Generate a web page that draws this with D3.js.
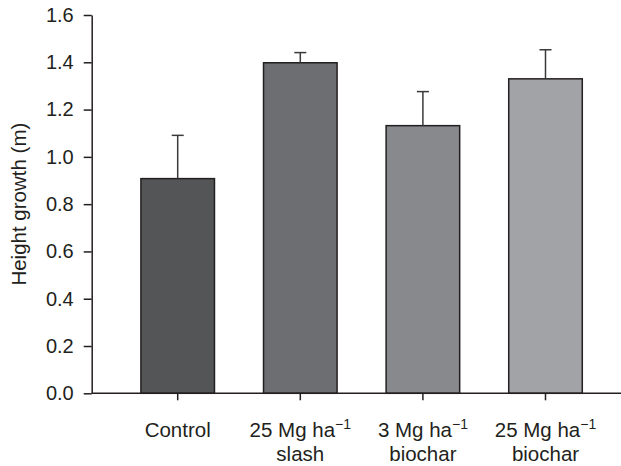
<!DOCTYPE html>
<html>
<head>
  <style>
  body { margin: 0; background: #fff; }
  text { font-family: "Liberation Sans", Arial, sans-serif; fill: #231f20; }
  </style>
  <script src="https://d3js.org/d3.v7.min.js"></script>
</head>
<body>
  <script>
  // data
  var treatments = ["Control", "Slash25", "Biochar3", "Biochar25"];
  var growth = [0.908, 1.398, 1.132, 1.330];
  var errorTop = [1.091, 1.441, 1.276, 1.453];
  var labelMain = ["Control", "25 Mg ha", "3 Mg ha", "25 Mg ha"];
  var labelSup = ["", "\u22121", "\u22121", "\u22121"];
  var labelSecond = ["", "slash", "biochar", "biochar"];
  var barColors = ["#545557", "#6d6e71", "#88898c", "#a2a3a6"];
  var yTicks = [0, 0.2, 0.4, 0.6, 0.8, 1.0, 1.2, 1.4, 1.6];

  var canvasWidth = 621;
  var canvasHeight = 466;
  var axisX = 91.7;
  var ink = "#231f20";

  var svg = d3.select("body")
              .append("svg")
              .attr("width", canvasWidth)
              .attr("height", canvasHeight);

  var x = d3.scaleBand()
      .domain(treatments)
      .range([116.4, 606.8])
      .paddingInner(0.4)
      .paddingOuter(0.2);

  var y = d3.scaleLinear()
      .domain([0, 1.6])
      .range([393.3, 15]);

  var data = treatments.map(function(t, i) {
    return {key: t, value: growth[i], err: errorTop[i], color: barColors[i]};
  });

  // bars
  svg.selectAll("rect.bar")
      .data(data)
      .enter().append("rect")
      .attr("class", "bar")
      .attr("x", function(d) { return x(d.key); })
      .attr("y", function(d) { return y(d.value); })
      .attr("width", x.bandwidth())
      .attr("height", function(d) { return y(0) - y(d.value); })
      .attr("fill", function(d) { return d.color; })
      .attr("stroke", ink)
      .attr("stroke-width", 1.5);

  // error bars (upper only)
  var err = svg.append("g")
      .attr("stroke", "#3a3a3a")
      .attr("stroke-width", 1.5);

  err.selectAll("line.stem")
      .data(data)
      .enter().append("line")
      .attr("x1", function(d) { return x(d.key) + x.bandwidth() / 2; })
      .attr("x2", function(d) { return x(d.key) + x.bandwidth() / 2; })
      .attr("y1", function(d) { return y(d.value); })
      .attr("y2", function(d) { return y(d.err); });

  err.selectAll("line.cap")
      .data(data)
      .enter().append("line")
      .attr("x1", function(d) { return x(d.key) + x.bandwidth() / 2 - 6; })
      .attr("x2", function(d) { return x(d.key) + x.bandwidth() / 2 + 6; })
      .attr("y1", function(d) { return y(d.err); })
      .attr("y2", function(d) { return y(d.err); });

  // y axis
  var yAxis = svg.append("g")
      .attr("transform", "translate(" + axisX + ",0)")
      .call(d3.axisLeft(y).tickValues(yTicks).tickFormat(d3.format(".1f"))
        .tickSizeInner(8).tickSizeOuter(0).tickPadding(10));
  yAxis.select(".domain").attr("stroke", ink).attr("stroke-width", 1.5);
  yAxis.selectAll(".tick line").attr("stroke", ink).attr("stroke-width", 1.5);
  yAxis.selectAll(".tick text")
      .attr("font-size", 20)
      .attr("font-family", "Liberation Sans, Arial, sans-serif")
      .attr("fill", ink);

  // x axis
  var xAxis = svg.append("g")
      .attr("transform", "translate(0," + y(0) + ")")
      .call(d3.axisBottom(x).tickSizeInner(7).tickSizeOuter(0).tickFormat(""));
  xAxis.select(".domain")
      .attr("d", "M" + axisX + ",0H" + canvasWidth)
      .attr("stroke", ink).attr("stroke-width", 1.5);
  xAxis.selectAll(".tick line").attr("stroke", ink).attr("stroke-width", 1.5);

  // category labels (two lines with superscript)
  var labels = svg.append("g")
      .attr("font-size", 20.5)
      .attr("text-anchor", "middle");

  treatments.forEach(function(t, i) {
    var cx = x(t) + x.bandwidth() / 2;
    var first = labels.append("text")
        .attr("x", cx)
        .attr("y", 437);
    first.append("tspan").text(labelMain[i]);
    if (labelSup[i]) {
      first.append("tspan")
          .attr("font-size", 14)
          .attr("dy", -8)
          .text(labelSup[i]);
    }
    if (labelSecond[i]) {
      labels.append("text")
          .attr("x", cx)
          .attr("y", 461)
          .text(labelSecond[i]);
    }
  });

  // y axis title
  svg.append("text")
      .attr("transform", "translate(26," + ((y(0) + y(1.6)) / 2) + ") rotate(-90)")
      .attr("text-anchor", "middle")
      .attr("font-size", 20.5)
      .text("Height growth (m)");
  </script>
</body>
</html>
